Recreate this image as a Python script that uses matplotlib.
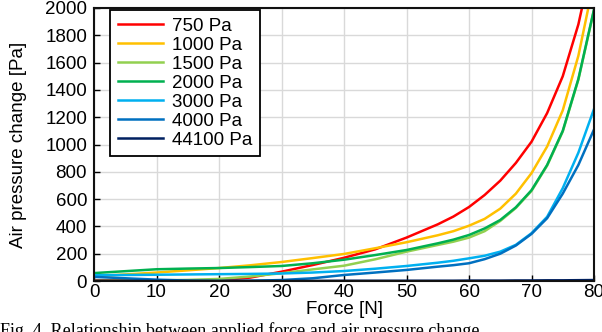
import matplotlib
matplotlib.use("Agg")
import matplotlib.pyplot as plt

# Force [N]
force = [0, 5, 10, 15, 20, 25, 30, 35, 40, 45, 50, 55, 57.5, 60,
         62.5, 65, 67.5, 70, 72.5, 75, 77.5, 80]

# Air pressure change [Pa]
p750 = [5, 5, 5, 5, 5, 25, 68, 117, 170, 232, 318, 415, 472, 542,
        630, 735, 865, 1020, 1230, 1500, 1880, 2400]
p1000 = [35, 48, 62, 78, 95, 115, 139, 168, 198, 240, 284, 335, 365, 405,
         455, 530, 640, 790, 985, 1250, 1650, 2200]
p1500 = [2, 3, 5, 8, 15, 33, 57, 85, 112, 159, 215, 264, 288, 318,
         365, 440, 535, 660, 845, 1095, 1475, 1985]
p2000 = [58, 72, 86, 91, 95, 102, 110, 130, 156, 190, 227, 276, 303, 337,
         385, 447, 540, 665, 850, 1100, 1480, 1990]
p3000 = [42, 44, 46, 48, 50, 52, 55, 62, 73, 90, 110, 134, 148, 166,
         185, 215, 265, 350, 470, 680, 940, 1260]
p4000 = [30, 20, 10, 3, 0, 2, 7, 20, 44, 62, 81, 105, 116, 130,
         160, 200, 260, 345, 460, 640, 850, 1110]
p44100 = [1, 1, 1, 1, 1, 1, 1, 1, 2, 2, 2, 2, 2, 3,
          3, 3, 4, 4, 5, 5, 6, 7]

labels = ["750 Pa", "1000 Pa", "1500 Pa", "2000 Pa", "3000 Pa", "4000 Pa", "44100 Pa"]
series = [p750, p1000, p1500, p2000, p3000, p4000, p44100]
colors = ["#FF0000", "#FFC000", "#92D050", "#00B050", "#00B0F0", "#0070C0", "#002060"]

FS = 13.5
plt.rcParams["font.family"] = ["Liberation Sans", "DejaVu Sans"]

fig = plt.figure(figsize=(6.02, 3.32), dpi=100)
ax = fig.add_axes([94 / 602, 51 / 332, 500 / 602, 273 / 332])

for vals, lab, col in zip(series, labels, colors):
    ax.plot(force, vals, color=col, lw=1.8, label=lab)

ax.set_xlim(0, 80)
ax.set_ylim(0, 2000)
ax.set_xticks(range(0, 81, 10))
ax.set_yticks(range(0, 2001, 200))
ax.grid(True, color="#d9d9d9", lw=1)
ax.set_axisbelow(True)
for s in ax.spines.values():
    s.set_linewidth(1.5)
    s.set_color("#111111")
ax.tick_params(direction="in", length=4, width=1, labelsize=FS)
ax.tick_params(axis="y", pad=5)
ax.tick_params(axis="x", pad=2)

ax.set_xlabel("Force [N]", fontsize=FS, labelpad=0)
ax.set_ylabel("Air pressure change [Pa]", fontsize=FS, labelpad=13)

leg = ax.legend(loc="upper left", bbox_to_anchor=(0.032, 0.993), borderaxespad=0,
                fontsize=FS, fancybox=False, edgecolor="black", framealpha=1,
                handlelength=2.4, handletextpad=0.5, labelspacing=0.1,
                borderpad=0.4)
leg.get_frame().set_linewidth(1.3)

# caption cut off at the bottom of the image, as in the source
fig.text(0.0, 1 - 322 / 332, "Fig. 4. Relationship between applied force and air pressure change",
         family="Liberation Serif", fontsize=13, va="top", ha="left")

fig.savefig("out.png", dpi=100)
